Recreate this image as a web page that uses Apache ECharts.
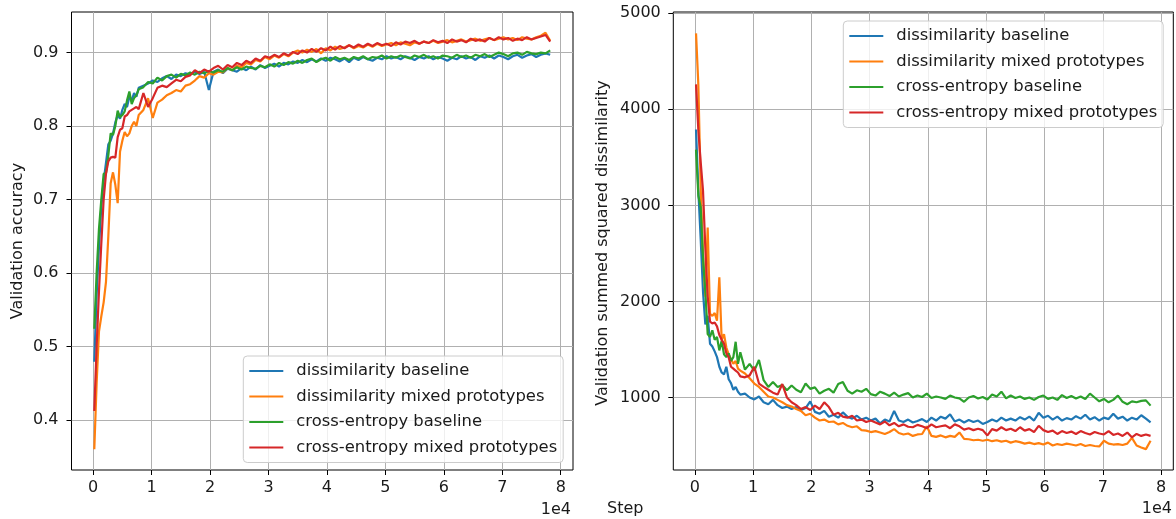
<!DOCTYPE html>
<html>
<head>
<meta charset="utf-8">
<script src="https://cdn.jsdelivr.net/npm/echarts@6/dist/echarts.min.js"></script>
<style>
  html, body { margin: 0; padding: 0; background: #fff; }
  #chart { width: 1176px; height: 519px; }
</style>
</head>
<body>
<div id="chart"></div>
<script>
// Training steps at which validation was run
const steps = [
  200, 600, 1000, 1400, 1800, 2200, 2600, 3000, 3400, 3800,
  4200, 4600, 5000, 5400, 5800, 6200, 6600, 7000, 7400, 7800,
  8600, 9400, 10200, 11000, 11800, 12600, 13400, 14200, 15000, 15800,
  16600, 17400, 18200, 19000, 19800, 20600, 21400, 22200, 23000, 23800,
  24600, 25400, 26200, 27000, 27800, 28600, 29400, 30200, 31000, 31800,
  32600, 33400, 34200, 35000, 35800, 36600, 37400, 38200, 39000, 39800,
  40600, 41400, 42200, 43000, 43800, 44600, 45400, 46200, 47000, 47800,
  48600, 49400, 50200, 51000, 51800, 52600, 53400, 54200, 55000, 55800,
  56600, 57400, 58200, 59000, 59800, 60600, 61400, 62200, 63000, 63800,
  64600, 65400, 66200, 67000, 67800, 68600, 69400, 70200, 71000, 71800,
  72600, 73400, 74200, 75000, 75800, 76600, 77400, 78200
];

const seriesNames = [
  'dissimilarity baseline',
  'dissimilarity mixed prototypes',
  'cross-entropy baseline',
  'cross-entropy mixed prototypes'
];
const seriesColors = ['#1f77b4', '#ff7f0e', '#2ca02c', '#d62728'];

// Validation accuracy
const accDissBase = [
  .479, .57, .635, .69, .725, .75, .775, .78, .79, .805,
  .815, .81, .822, .83, .826, .84, .835, .845, .84, .852,
  .855, .858, .862, .86, .865, .868, .864, .87, .868, .872,
  .87, .874, .871, .874, .849, .874, .877, .872, .878, .876,
  .874, .879, .876, .881, .877, .883, .879, .882, .885, .881,
  .886, .884, .888, .886, .89, .887, .891, .888, .892, .889,
  .893, .891, .888, .892, .887, .893, .89, .894, .891, .889,
  .893, .891, .895, .892, .894, .891, .895, .893, .89, .894,
  .892, .895, .891, .894, .892, .889, .893, .891, .895, .892,
  .894, .89, .895, .893, .896, .892, .896, .894, .891, .895,
  .897, .893, .896, .898, .894, .897, .899, .897
];
const accDissMixed = [
  .36, .45, .52, .541, .56, .588, .65, .722, .737, .72,
  .695, .765, .78, .792, .786, .79, .80, .806, .80, .815,
  .822, .838, .811, .832, .836, .842, .845, .849, .847, .855,
  .857, .862, .868, .866, .872, .87, .874, .873, .879, .876,
  .882, .88, .886, .884, .89, .888, .894, .891, .896, .893,
  .898, .895, .9, .903, .9, .904, .901, .905, .899, .906,
  .903, .908, .905, .907, .91, .906, .909, .907, .911, .908,
  .912, .909, .911, .913, .91, .914, .912, .91, .914, .912,
  .915, .913, .916, .913, .915, .917, .914, .916, .918, .915,
  .917, .919, .916, .918, .92, .917, .919, .921, .918, .92,
  .917, .921, .919, .918, .921, .923, .927, .916
];
const accCeBase = [
  .524, .60, .66, .70, .735, .736, .76, .79, .788, .80,
  .821, .812, .815, .82, .835, .847, .83, .838, .842, .85,
  .853, .86, .858, .866, .862, .868, .87, .866, .871, .869,
  .873, .87, .874, .872, .875, .873, .876, .874, .879, .876,
  .88, .877, .881, .879, .878, .882, .88, .884, .881, .886,
  .883, .887, .885, .889, .886, .89, .892, .887, .891, .893,
  .889, .894, .891, .893, .89, .894, .892, .895, .891, .894,
  .893, .896, .892, .895, .893, .896, .894, .892, .896, .894,
  .897, .893, .895, .892, .896, .895, .893, .897, .894, .896,
  .893, .897, .895, .898, .894, .897, .9, .898, .895, .899,
  .9, .897, .901, .899, .898, .9, .899, .903
];
const accCeMixed = [
  .412, .50, .575, .64, .70, .735, .752, .757, .758, .757,
  .785, .795, .797, .813, .815, .82, .822, .824, .826, .823,
  .845, .826, .838, .852, .855, .853, .858, .863, .861, .867,
  .869, .876, .872, .877, .874, .879, .882, .877, .883, .88,
  .886, .883, .889, .886, .892, .889, .895, .893, .897, .894,
  .899, .896, .901, .898, .903, .9, .905, .901, .906, .903,
  .908, .904, .909, .906, .91, .907, .911, .908, .912, .909,
  .913, .91, .912, .909, .914, .911, .915, .913, .916, .912,
  .915, .913, .917, .914, .916, .913, .918, .915, .917, .914,
  .919, .916, .918, .915, .92, .917, .921, .918, .92, .916,
  .919, .917, .921, .918, .92, .922, .924, .915
];

// Validation summed squared dissimilarity
const dissDissBase = [
  3790, 3150, 2650, 2100, 1760, 1850, 1560, 1530, 1480, 1420,
  1320, 1260, 1240, 1320, 1190, 1150, 1080, 1110, 1060, 1030,
  1040, 1000, 980, 1010, 950, 930, 975, 920, 890, 905,
  880, 900, 870, 890, 960, 850, 830, 860, 800, 820,
  790, 845, 800, 780, 810, 770, 790, 760, 780, 730,
  770, 750, 860, 760, 745, 770, 740, 755, 775, 745,
  790, 760, 800, 780, 825, 750, 770, 740, 765, 745,
  760, 725, 745, 770, 750, 790, 760, 780, 760, 795,
  770, 800, 760, 840, 790, 810, 770, 800, 760, 785,
  770, 805, 780, 820, 770, 795, 760, 790, 775, 830,
  780, 800, 760, 790, 770, 815, 780, 740
];
const dissDissMixed = [
  4790, 4250, 3180, 2500, 2050, 2770, 1870, 1850, 1880, 1800,
  2250, 1600, 1660, 1520, 1450, 1400, 1350, 1380, 1300, 1280,
  1250, 1200, 1145, 1110, 1060, 1010, 1000, 975, 950, 920,
  905, 880, 860, 815, 830, 790, 760, 770, 745, 750,
  720, 735, 705, 690, 700, 660, 655, 640, 650, 635,
  620, 640, 670, 630, 615, 625, 600, 615, 620, 700,
  600, 590, 605, 585, 600, 590, 636, 570, 565, 555,
  560, 550, 560, 545, 555, 540, 550, 530, 545, 535,
  520, 530, 515, 525, 510, 530, 500, 515, 505, 520,
  510, 500, 515, 495, 505, 495, 490, 550, 520, 510,
  515, 505, 520, 580, 500, 480, 462, 549
];
const dissCeBase = [
  3580, 3100, 2980, 2450, 2100, 1660, 1630, 1700, 1600, 1630,
  1490, 1590, 1450, 1420, 1460, 1380, 1420, 1580, 1350, 1470,
  1290, 1350, 1280, 1390, 1180, 1110, 1160, 1110, 1130, 1075,
  1125, 1080, 1055, 1145, 1090, 1105, 1040, 1070, 1090, 1050,
  1140, 1160, 1070, 1040, 1075, 1060, 1090, 1035, 1020, 1060,
  1040, 1015, 1050, 1010, 1030, 1045, 1000, 1020, 1005, 1040,
  995, 1010, 1000, 985, 1020, 1000, 990, 955, 1000, 1015,
  990, 1005, 980, 1030, 1010, 1060, 990, 1020, 995, 1010,
  985, 1000, 975, 1005, 1020, 985, 1000, 975, 1025, 995,
  1015, 990, 1010, 985, 1040, 1000, 960, 985, 950, 975,
  1020, 955, 930, 960, 950, 965, 970, 915
];
const dissCeMixed = [
  4260, 3780, 3450, 3150, 2550, 2050, 1790, 1770, 1780, 1740,
  1650, 1600, 1560, 1460, 1420, 1320, 1300, 1280, 1260, 1220,
  1210, 1230, 1320, 1145, 1110, 1080, 1050, 1030, 1140, 1000,
  950, 920, 880, 900, 870, 915, 880, 950, 900, 820,
  840, 800, 790, 810, 760, 770, 745, 760, 740, 720,
  750, 710, 735, 700, 720, 695, 690, 715, 700, 680,
  720, 690, 700, 710, 680, 720, 700, 665, 680, 660,
  675, 660, 605, 670, 655, 690, 660, 675, 650, 690,
  655, 670, 640, 705, 660, 640, 655, 620, 650, 630,
  645, 620, 650, 630, 615, 640, 625, 615, 650, 610,
  625, 600, 635, 585, 620, 600, 615, 600
];

// Tick positions
const stepTicks = [0, 10000, 20000, 30000, 40000, 50000, 60000, 70000, 80000];
const accTicks = [0.4, 0.5, 0.6, 0.7, 0.8, 0.9];
const dissTicks = [1000, 2000, 3000, 4000, 5000];

const FONT = "'DejaVu Sans', sans-serif";
const TXT = '#1a1a1a';

const pair = (ys) => steps.map((s, i) => [s, ys[i]]);

function lineSeries(name, color, ys, axisIdx) {
  return {
    name: name,
    type: 'line',
    xAxisIndex: axisIdx,
    yAxisIndex: axisIdx,
    data: pair(ys),
    showSymbol: false,
    symbol: 'none',
    lineStyle: { width: 2.2, color: color },
    itemStyle: { color: color },
    emphasis: { disabled: true },
    animation: false
  };
}

function xAxisDef(gridIndex) {
  return {
    type: 'value',
    gridIndex: gridIndex,
    min: -3700,
    max: 82100,
    axisLine: { show: false, onZero: false },
    axisTick: {
      show: true, length: 5, inside: false,
      customValues: stepTicks,
      lineStyle: { color: '#000', width: 1 }
    },
    axisLabel: {
      customValues: stepTicks,
      formatter: (v) => String(Math.round(v / 10000)),
      fontFamily: FONT, fontSize: 16, color: TXT, margin: 10
    },
    splitLine: { show: true, lineStyle: { color: '#b0b0b0', width: 1 } }
  };
}

function yAxisDef(gridIndex, min, max, ticks, fmt, margin) {
  return {
    type: 'value',
    gridIndex: gridIndex,
    min: min,
    max: max,
    axisLine: { show: false, onZero: false },
    axisTick: {
      show: true, length: 5, inside: false,
      customValues: ticks,
      lineStyle: { color: '#000', width: 1 }
    },
    axisLabel: {
      customValues: ticks,
      formatter: fmt,
      fontFamily: FONT, fontSize: 16, color: TXT, margin: margin
    },
    splitLine: { show: true, lineStyle: { color: '#b0b0b0', width: 1 } }
  };
}

function legendDef(left, top) {
  return {
    data: seriesNames,
    orient: 'vertical',
    left: left,
    top: top,
    icon: 'rect',
    itemWidth: 34,
    itemHeight: 2,
    itemGap: 9.5,
    padding: [7, 6, 7, 6],
    backgroundColor: 'rgba(255,255,255,0.8)',
    borderColor: '#cccccc',
    borderWidth: 1,
    borderRadius: 4,
    selectedMode: false,
    textStyle: {
      fontFamily: FONT, fontSize: 16.4, color: TXT, lineHeight: 16,
      padding: [0, 0, 0, 8]
    }
  };
}

const accData = [accDissBase, accDissMixed, accCeBase, accCeMixed];
const dissData = [dissDissBase, dissDissMixed, dissCeBase, dissCeMixed];

const series = [];
seriesNames.forEach((n, i) => series.push(lineSeries(n, seriesColors[i], accData[i], 0)));
seriesNames.forEach((n, i) => series.push(lineSeries(n, seriesColors[i], dissData[i], 1)));

const chart = echarts.init(document.getElementById('chart'), null, { renderer: 'canvas' });
chart.setOption({
  animation: false,
  backgroundColor: '#fff',
  color: seriesColors,
  grid: [
    { left: 71.5, top: 12, width: 501.5, bottom: 49, show: true, borderColor: '#000', borderWidth: 1, backgroundColor: 'transparent' },
    { left: 673.3, top: 12, width: 500, bottom: 49, show: true, borderColor: '#000', borderWidth: 1, backgroundColor: 'transparent' }
  ],
  xAxis: [xAxisDef(0), xAxisDef(1)],
  yAxis: [
    yAxisDef(0, 0.3317, 0.9553, accTicks, (v) => v.toFixed(1), 13),
    yAxisDef(1, 245, 5013, dissTicks, (v) => String(Math.round(v)), 12.5)
  ],
  legend: [legendDef(243.3, 356), legendDef(843.3, 21)],
  series: series,
  graphic: [
    {
      type: 'text', x: 18, y: 241, rotation: Math.PI / 2,
      style: { text: 'Validation accuracy', font: "16px 'DejaVu Sans', sans-serif", fill: TXT, align: 'center', verticalAlign: 'middle' }
    },
    {
      type: 'text', x: 603, y: 243, rotation: Math.PI / 2,
      style: { text: 'Validation summed squared dissimilarity', font: "16px 'DejaVu Sans', sans-serif", fill: TXT, align: 'center', verticalAlign: 'middle' }
    },
    {
      type: 'text', x: 571, y: 510,
      style: { text: '1e4', font: "16px 'DejaVu Sans', sans-serif", fill: TXT, align: 'right', verticalAlign: 'middle' }
    },
    {
      type: 'text', x: 1172, y: 509,
      style: { text: '1e4', font: "16px 'DejaVu Sans', sans-serif", fill: TXT, align: 'right', verticalAlign: 'middle' }
    },
    {
      type: 'text', x: 607, y: 509,
      style: { text: 'Step', font: "16px 'DejaVu Sans', sans-serif", fill: TXT, align: 'left', verticalAlign: 'middle' }
    }
  ]
});
</script>
</body>
</html>
